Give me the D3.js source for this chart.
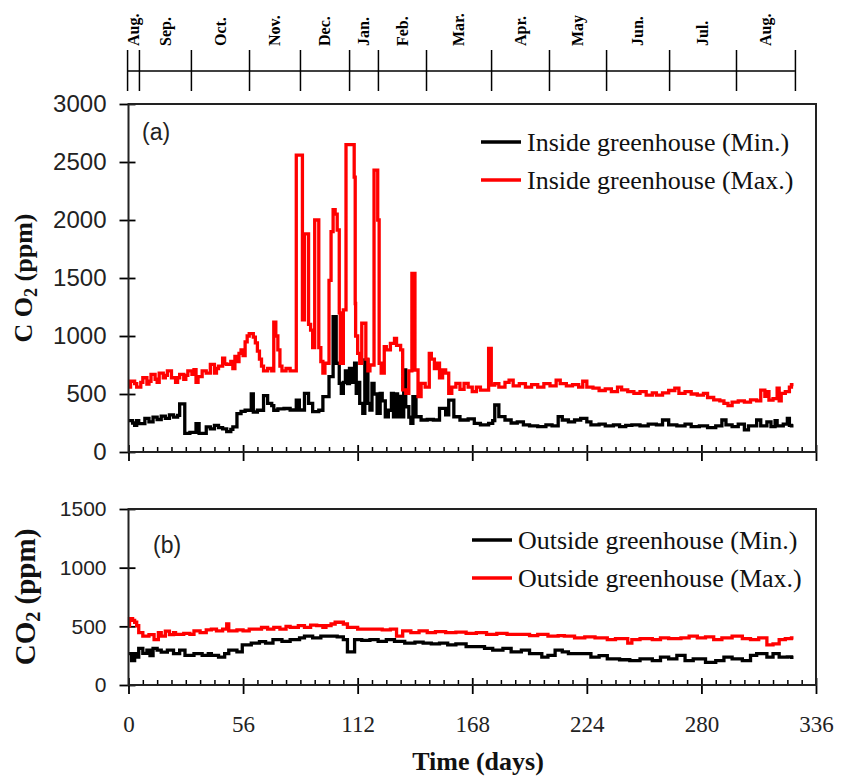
<!DOCTYPE html>
<html><head><meta charset="utf-8">
<script src="https://cdn.jsdelivr.net/npm/d3@7"></script>
<style>body{margin:0;background:#fff}svg{display:block}</style>
</head><body>
<script>
// ---------- DATA (day, ppm) step series ----------
const insideMax = [[0,560],[1,610],[3,590],[4,560],[6,600],[7,640],[9,585],[10,610],[11,670],[13,627],[14,600],[15,680],[17,640],[18,660],[19,700],[21,640],[23,600],[24,640],[25,670],[27,627],[28,660],[29,700],[31,670],[32,710],[33,600],[34,650],[36,700],[38,680],[40,755],[42,680],[43,720],[44,740],[46,810],[47,760],[48,755],[50,780],[51,720],[52,825],[53,780],[54,850],[55,880],[56,830],[57,950],[58,1000],[59,1020],[61,990],[62,940],[63,870],[64,800],[65,740],[66,700],[68,720],[70,700],[71,1120],[72,1000],[73,880],[74,740],[75,700],[77,720],[79,700],[82,2560],[85,1140],[86,1880],[88,1100],[89,1050],[90,900],[91,2000],[93,900],[94,780],[95,680],[96,765],[98,1480],[99,1900],[100,2090],[101,2050],[102,1914],[103,1200],[103.5,765],[105,1225],[106.3,2650],[110.3,2370],[110.8,1280],[111,1000],[112,850],[113,765],[114,1110],[116,800],[117,700],[118,750],[120,2430],[121.8,2000],[122.5,765],[123.5,680],[125,908],[126,880],[128,937],[130,980],[131,920],[133,880],[134,535],[135.5,505],[137,700],[138.5,1540],[140,707],[141.5,477],[143,592],[145,560],[147,850],[148,800],[149.5,720],[151,765],[152,640],[153.5,707],[155,680],[156.5,505],[158,560],[160,592],[162,540],[164,592],[166,560],[168,520],[170,560],[172,534],[176,893],[177.3,577],[179,590],[181,560],[184,600],[186,620],[188,570],[191,590],[194,560],[197,580],[200,560],[203,590],[206,570],[209,620],[211,590],[214,570],[217,580],[220,560],[222,610],[224,560],[227,550],[230,530],[233,545],[236,520],[239,560],[241,535],[244,520],[247,505],[250,520],[253,490],[256,510],[258,490],[261,510],[264,530],[267,550],[269,505],[272,520],[275,500],[278,490],[281,505],[283,470],[286,450],[289,440],[291,420],[293,400],[295,430],[298,440],[301,430],[304,450],[307,440],[309,534],[311,480],[312,520],[313,448],[315,460],[317,550],[318,440],[319,505],[321,520],[323,560],[324,580]];
const insideMin = [[0,270],[2,250],[3,230],[4,270],[5,245],[8,290],[10,260],[12,300],[14,280],[16,310],[18,290],[20,320],[22,300],[24,316],[25,415],[27.5,160],[30,170],[33,245],[34.5,160],[38,217],[40,200],[42,230],[44,210],[46,200],[48,175],[50,195],[51,217],[53,330],[55,350],[57,360],[60,500],[61,345],[63,360],[66,486],[68,420],[70,400],[71,360],[73,372],[76,375],[79,362],[82,448],[83.5,362],[86,506],[88,420],[90,348],[93,360],[95,477],[98,650],[100,1167],[101.5,765],[103,592],[104,506],[105,600],[106,700],[107,590],[108,720],[109,600],[110.5,765],[111.3,506],[112.5,600],[113,420],[114.5,333],[115.5,793],[117,420],[118,362],[119,592],[120,500],[121.5,333],[123,506],[124,440],[125.5,304],[127,360],[128.5,506],[129.5,304],[130.5,500],[131.5,304],[132.5,480],[133.5,304],[134.5,707],[135.5,390],[137,300],[138,247],[139,477],[140.5,304],[143,276],[146,280],[149,276],[152,376],[155,320],[156.5,448],[159,304],[162,276],[166,285],[169,247],[172,233],[176,247],[178,270],[179,405],[181,305],[184,276],[187,250],[190,260],[193,233],[196,225],[200,218],[204,233],[207,225],[210,305],[212,276],[215,260],[218,276],[221,290],[224,260],[226,233],[230,240],[233,225],[237,233],[240,218],[243,230],[246,233],[250,225],[254,240],[258,233],[261,276],[264,233],[268,225],[272,240],[275,218],[279,225],[283,210],[287,225],[290,276],[292,233],[295,218],[298,240],[301,190],[303,225],[307,276],[309,225],[312,260],[314,218],[316,270],[317,225],[320,240],[322,290],[323,230],[324,225]];
const outsideMax = [[0,505],[0.5,565],[2,550],[3,535],[4,505],[5,446],[7,416],[10,430],[12.5,387],[14.6,446],[16,416],[18,460],[20,430],[22,446],[23,431],[27,440],[30,431],[32,461],[35,446],[38,470],[40.5,476],[43,461],[46,476],[48,520],[49,461],[53,470],[56,461],[59,476],[62,476],[65,490],[68,476],[71,491],[74,476],[77,500],[79,491],[83,506],[86,491],[89,510],[92,506],[95,491],[96.5,506],[99,520],[101,535],[105,520],[107,491],[110,491],[112,476],[118,476],[124,470],[128,476],[131,416],[134,461],[138,446],[142,461],[146,446],[150,455],[155,446],[160,451],[165,440],[170,446],[175,431],[180,440],[185,431],[191,431],[196,420],[200,431],[205,416],[210,420],[213,416],[218,402],[223,410],[228,402],[234,387],[238,395],[244,357],[246,387],[250,395],[256,387],[260,402],[264,395],[270,402],[274,416],[278,402],[282,410],[286,387],[290,402],[295,416],[300,395],[304,387],[308,402],[312,342],[315,350],[318,387],[321,395],[324,402]];
const outsideMin = [[0,268],[1.5,208],[3,268],[4,238],[5,312],[7,270],[9,298],[10.5,250],[12,312],[14,298],[16,280],[19,298],[22,268],[25,298],[27.6,253],[32,268],[36,253],[39,268],[40.5,253],[44,238],[47,268],[49,298],[53,283],[55.6,342],[60,357],[64,370],[67,357],[70.6,387],[75,372],[79,387],[83.6,402],[86,416],[90,402],[94,416],[98.6,416],[102,410],[105,387],[107,283],[110.5,387],[114,380],[118,387],[122,372],[126,387],[130,372],[135,357],[140,365],[144,357],[148,350],[152,357],[156,342],[160,350],[165,327],[170,327],[174,312],[178,298],[183,312],[187,283],[192,298],[196,268],[202,238],[205,253],[208.5,298],[212,283],[215,268],[220,268],[226,238],[230,250],[234,223],[240,215],[245,208],[250,223],[256,208],[260,238],[264,223],[268,253],[272,208],[276,223],[282,193],[287,208],[291,238],[295,223],[300,208],[304,253],[307,268],[312,238],[315,268],[318,238],[322,240],[324,235]];
const lastDay = 325;

const yTicksA = [0,500,1000,1500,2000,2500,3000];
const yTicksB = [0,500,1000,1500];
const xTicks = [0,56,112,168,224,280,336];
const monthBounds = [-0.7,5.1,30.5,58.9,83.8,107.8,121.9,145.4,177.2,205.5,233.4,264.2,296.9,325.7];
const monthLabels = ["Aug.","Sep.","Oct.","Nov.","Dec.","Jan.","Feb.","Mar.","Apr.","May","Jun.","Jul.","Aug."];
const legendA = ["Inside greenhouse (Min.)","Inside greenhouse (Max.)"];
const legendB = ["Outside greenhouse (Min.)","Outside greenhouse (Max.)"];
const colors = ["#000000","#ff0000"];

// ---------- LAYOUT ----------
const W=863,H=782;
const SERIF="'Liberation Serif','Times New Roman',serif";
const SANS="'Liberation Sans',Arial,sans-serif";
const svg=d3.select("body").append("svg").attr("width",W).attr("height",H);
svg.append("rect").attr("width",W).attr("height",H).attr("fill","#fff");

const x=d3.scaleLinear().domain([0,336]).range([128.5,816]);
const yA=d3.scaleLinear().domain([0,3000]).range([452,104]);
const yB=d3.scaleLinear().domain([0,1500]).range([685,509]);

function ext(s){return s.concat([[lastDay,s[s.length-1][1]]]);}

// ---------- top month axis ----------
const topY=71;
const gm=svg.append("g");
gm.append("line").attr("x1",x(monthBounds[0])).attr("x2",x(monthBounds[monthBounds.length-1]))
  .attr("y1",topY).attr("y2",topY).attr("stroke","#000").attr("stroke-width",1.5);
const mAx=d3.axisBottom(x).tickValues(monthBounds).tickSize(20).tickFormat("");
const gmt=gm.append("g").attr("transform",`translate(0,${topY})`).call(mAx);
gmt.select(".domain").remove();
gmt.selectAll(".tick line").attr("y1",-21).attr("stroke-width",1.5);
monthLabels.forEach((m,i)=>{
  const cx=x((monthBounds[i]+monthBounds[i+1])/2);
  gm.append("text").attr("transform",`translate(${cx},46) rotate(-90)`)
    .attr("dy","0.35em").attr("text-anchor","start")
    .attr("font-family",SERIF).attr("font-weight","bold").attr("font-size",16).text(m);
});

// ---------- panel builder ----------
function panel(y, yTicks, series, legend, opts){
  const g=svg.append("g");
  const [y0,y1]=y.range();
  // y axis
  const ya=g.append("g").attr("transform",`translate(${x(0)},0)`)
    .call(d3.axisLeft(y).tickValues(yTicks).tickSize(9).tickPadding(13).tickFormat(d3.format("d")));
  ya.select(".domain").remove();
  ya.selectAll(".tick line").attr("x1",7).attr("stroke-width",1.8);
  ya.selectAll("text").attr("font-family",SANS).attr("font-size",opts.yFont).attr("fill","#222");
  // x axis major
  const xa=g.append("g").attr("transform",`translate(0,${y0})`)
    .call(d3.axisBottom(x).tickValues(xTicks).tickSize(9).tickFormat(opts.xLabels?d3.format("d"):""));
  xa.select(".domain").remove();
  xa.selectAll(".tick line").attr("y1",-7).attr("stroke-width",1.8);
  xa.selectAll("text").attr("font-family",SERIF).attr("font-size",23).attr("fill","#222")
    .attr("y",31).attr("dy","0.71em");
  // x minor
  const xm=g.append("g").attr("transform",`translate(0,${y0})`)
    .call(d3.axisBottom(x).tickValues(d3.range(7,336,7).filter(d=>d%56)).tickSize(-5).tickFormat(""));
  xm.select(".domain").remove();
  xm.selectAll(".tick line").attr("stroke-width",1.5);
  // series
  const line=d3.line().x(d=>x(d[0])).y(d=>y(d[1])).curve(d3.curveStepAfter);
  series.forEach((s,i)=>{
    g.append("path").datum(ext(s)).attr("d",line).attr("fill","none")
      .attr("stroke",colors[i]).attr("stroke-width",3.3);
  });
  // frame
  g.append("rect").attr("x",x(0)).attr("y",y1).attr("width",x(336)-x(0)).attr("height",y0-y1)
    .attr("fill","none").attr("stroke","#222").attr("stroke-width",2);
  // legend
  legend.forEach((t,i)=>{
    const ly=opts.legY[i];
    g.append("line").attr("x1",opts.legX).attr("x2",opts.legX+40).attr("y1",ly).attr("y2",ly)
      .attr("stroke",colors[i]).attr("stroke-width",3.5);
    g.append("text").attr("x",opts.legX+46).attr("y",ly).attr("dy","0.33em")
      .attr("font-family",SERIF).attr("font-size",26).attr("fill","#111").text(t);
  });
  // panel tag
  g.append("text").attr("x",opts.tag[0]).attr("y",opts.tag[1]).attr("font-family",SANS)
    .attr("font-size",23).attr("fill","#222").text(opts.tagText);
  // y label
  const yl=g.append("text").attr("transform",`translate(${opts.ylX},${(y0+y1)/2}) rotate(-90)`)
    .attr("text-anchor","middle").attr("font-family",SERIF).attr("font-weight","bold")
    .attr("font-size",opts.ylFont).attr("fill","#111");
  yl.append("tspan").text(opts.ylPre);
  yl.append("tspan").attr("font-size",opts.ylFont*0.7).attr("dy","0.25em").text("2");
  yl.append("tspan").attr("dy","-0.18em").text(" (ppm)");
}

panel(yA,yTicksA,[insideMin,insideMax],legendA,{
  yFont:24,xLabels:false,legX:481,legY:[142,180],tag:[142,140],tagText:"(a)",
  ylX:32,ylFont:26,ylPre:"C O"});
panel(yB,yTicksB,[outsideMin,outsideMax],legendB,{
  yFont:21,xLabels:true,legX:472,legY:[540,578],tag:[153,553],tagText:"(b)",
  ylX:35,ylFont:29,ylPre:"CO"});

svg.append("text").attr("x",478).attr("y",770).attr("text-anchor","middle")
  .attr("font-family",SERIF).attr("font-weight","bold").attr("font-size",26).attr("fill","#111")
  .text("Time (days)");
</script>
</body></html>
